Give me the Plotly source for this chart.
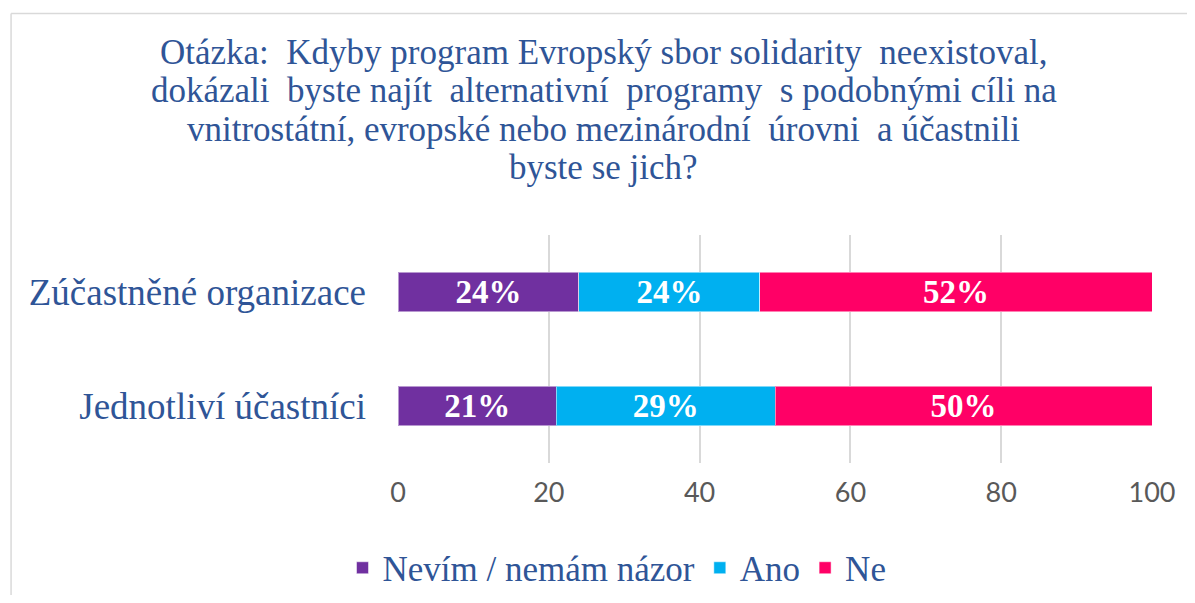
import plotly.graph_objects as go

categories = ["Jednotliví účastníci", "Zúčastněné organizace"]
series_names = ["Nevím / nemám názor", "Ano", "Ne"]
nevim = [21, 24]
ano = [29, 24]
ne = [50, 52]
tick_vals = [0, 20, 40, 60, 80, 100]
colors = ["#7030A0", "#00B0F0", "#FF0066"]
title_lines = [
    "Otázka:  Kdyby program Evropský sbor solidarity  neexistoval,",
    "dokázali  byste najít  alternativní  programy  s podobnými cíli na",
    "vnitrostátní, evropské nebo mezinárodní  úrovni  a účastnili",
    "byste se jich?",
]

SERIF = "Liberation Serif, Times New Roman, serif"

# page has an 8px body margin; figure coordinates = page coordinates - 8
W, H = 1179, 587
ml, mr, mt, mb = 390, 30, 227, 132
pw = W - ml - mr
ph = H - mt - mb


def px_x(x):
    return (x - ml) / pw


def px_y(y):
    return (H - mb - y) / ph


fig = go.Figure()
for name, vals, col in zip(series_names, [nevim, ano, ne], colors):
    fig.add_trace(go.Bar(
        y=categories, x=vals, name=name, orientation="h",
        marker=dict(color=col, line=dict(color="rgba(255,255,255,0.5)", width=1)),
        text=[f"{v}%" for v in vals], textposition="inside", insidetextanchor="middle",
        constraintext="none",
        textfont=dict(family=SERIF, size=33, color="white", weight="bold"),
        width=0.345,
    ))

title_y = [44, 82.5, 121, 159]
annotations = []
for line, yy in zip(title_lines, title_y):
    annotations.append(dict(
        text=line, xref="paper", yref="paper", x=px_x(597), y=px_y(yy),
        xanchor="center", yanchor="middle", showarrow=False,
        font=dict(family=SERIF, size=35, color="#2F5597"),
    ))

fig.update_layout(
    width=W, height=H,
    margin=dict(l=ml, r=mr, t=mt, b=mb),
    plot_bgcolor="white", paper_bgcolor="white",
    barmode="stack",
    annotations=annotations,
    xaxis=dict(range=[0, 100], tickvals=tick_vals, showgrid=True, gridcolor="#D9D9D9",
               gridwidth=1.5, zeroline=False, showline=False, ticks="",
               tickfont=dict(family="Lato", size=27, color="#595959"),
               ticklabelstandoff=11),
    yaxis=dict(categoryorder="array", categoryarray=categories, showgrid=False,
               zeroline=False, showline=False, ticks="",
               tickfont=dict(family=SERIF, size=37, color="#2F5597"),
               ticklabelstandoff=31),
    showlegend=True,
    legend=dict(orientation="h", x=609 / W, xref="container", xanchor="center",
                y=1 - 560 / H, yref="container", yanchor="middle",
                font=dict(family=SERIF, size=35, color="#2F5597"),
                traceorder="normal"),
    shapes=[
        dict(type="line", xref="paper", yref="paper", x0=px_x(0.5), x1=px_x(W + 10),
             y0=px_y(5.5), y1=px_y(5.5), line=dict(color="#D9D9D9", width=1.5)),
        dict(type="line", xref="paper", yref="paper", x0=px_x(0.5), x1=px_x(0.5),
             y0=px_y(5.5), y1=px_y(H + 10), line=dict(color="#D9D9D9", width=1.5)),
    ],
)

fig.write_html("out.html")
